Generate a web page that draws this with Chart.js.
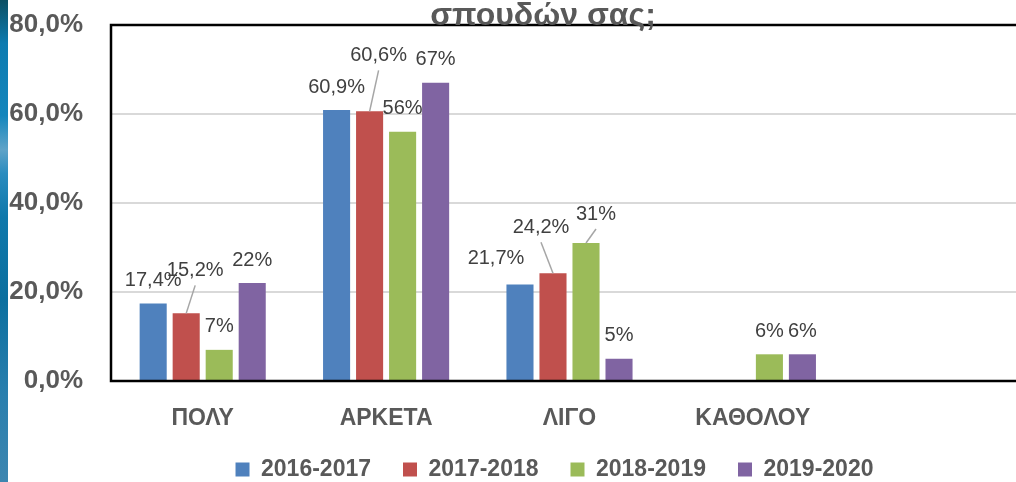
<!DOCTYPE html>
<html>
<head>
<meta charset="utf-8">
<script src="https://cdn.jsdelivr.net/npm/chart.js@4.4.1/dist/chart.umd.min.js"></script>
<style>
  html, body { margin: 0; padding: 0; background: #fff; width: 1016px; height: 482px; overflow: hidden; }
  #wrap { position: absolute; left: 0; top: 0; width: 1040px; height: 482px; }
  #strip {
    position: absolute; left: 0; top: 0; width: 8px; height: 482px;
    background: linear-gradient(to bottom, #0c4f63 0%, #0d7bb0 9%, #1486bd 24%, #5fa3c8 31%, #2a8cbf 36%, #0f78ab 45%, #0b6f9f 62%, #2a7fae 82%, #3d86b0 100%);
  }
</style>
</head>
<body>
<div id="wrap"><canvas id="chart"></canvas></div>
<div id="strip"></div>
<script>
const categories = ['ΠΟΛΥ', 'ΑΡΚΕΤΑ', 'ΛΙΓΟ', 'ΚΑΘΟΛΟΥ', ''];
const years = ['2016-2017', '2017-2018', '2018-2019', '2019-2020'];
const y2016 = [17.4, 60.9, 21.7, null, null];
const y2017 = [15.2, 60.6, 24.2, null, null];
const y2018 = [7, 56, 31, 6, null];
const y2019 = [22, 67, 5, 6, null];
const yTicks = [0, 20, 40, 60, 80];
const titleText = 'σπουδών σας;';

const colors = ['#4f81bd', '#c0504d', '#9bbb59', '#8064a2'];
const textGrey = '#595959';

// hand-moved labels (dx, dy, leader line) like in the original sheet
const labelNudge = {
  '1-0': [9, -20, true],
  '1-1': [9, -33, true],
  '0-2': [-24, -3, false],
  '1-2': [-12, -23, true],
  '2-2': [10, -6, true]
};

const fmt = v => String(v).replace('.', ',') + '%';

const decor = {
  id: 'decor',
  afterLayout(chart) {
    // legend sits a bit left of centre in the original
    chart.legend.left -= 15;
    chart.legend.right -= 15;
  },
  afterDatasetsDraw(chart) {
    const ctx = chart.ctx;
    ctx.save();
    ctx.font = '20px "Liberation Sans", Arial, sans-serif';
    ctx.textAlign = 'center';
    ctx.textBaseline = 'middle';
    chart.data.datasets.forEach((ds, di) => {
      chart.getDatasetMeta(di).data.forEach((bar, i) => {
        const v = ds.data[i];
        if (v == null) return;
        const n = labelNudge[di + '-' + i] || [0, 0, false];
        const lx = bar.x + n[0], ly = bar.y - 23 + n[1];
        if (n[2]) {
          ctx.strokeStyle = '#a6a6a6';
          ctx.lineWidth = 1.5;
          ctx.beginPath();
          ctx.moveTo(bar.x, bar.y);
          ctx.lineTo(lx, ly + 15);
          ctx.stroke();
        }
        ctx.fillStyle = '#404040';
        ctx.fillText(fmt(v), lx, ly);
      });
    });
    ctx.restore();
  },
  afterDraw(chart) {
    const {ctx, chartArea: a} = chart;
    ctx.save();
    ctx.strokeStyle = '#000';
    ctx.lineWidth = 2.5;
    ctx.beginPath();
    ctx.moveTo(a.right + 5, a.top);
    ctx.lineTo(a.left, a.top);
    ctx.lineTo(a.left, a.bottom);
    ctx.lineTo(a.right + 5, a.bottom);
    ctx.stroke();
    ctx.fillStyle = textGrey;
    ctx.font = 'bold 32px "Liberation Sans", Arial, sans-serif';
    ctx.textAlign = 'center';
    ctx.textBaseline = 'alphabetic';
    ctx.fillText(titleText, 543, a.top);
    ctx.restore();
  }
};

new Chart(document.getElementById('chart'), {
  type: 'bar',
  data: {
    labels: categories,
    datasets: [y2016, y2017, y2018, y2019].map((d, i) => ({
      label: years[i],
      data: d,
      backgroundColor: colors[i],
      categoryPercentage: 0.72,
      barPercentage: 0.82
    }))
  },
  options: {
    responsive: true,
    maintainAspectRatio: false,
    animation: false,
    layout: { padding: { top: 25, right: 12, left: 0, bottom: -9 } },
    plugins: {
      tooltip: { enabled: false },
      legend: {
        position: 'bottom',
        fullSize: false,
        labels: {
          boxWidth: 14,
          boxHeight: 14,
          padding: 32,
          color: textGrey,
          font: { family: '"Liberation Sans", Arial, sans-serif', size: 23, weight: 'bold' }
        }
      }
    },
    scales: {
      x: {
        grid: { display: false, drawTicks: false },
        border: { display: false },
        ticks: {
          padding: 24,
          color: textGrey,
          font: { family: '"Liberation Sans", Arial, sans-serif', size: 23, weight: 'bold' }
        },
        afterFit: s => { s.height = 45; }
      },
      y: {
        min: 0,
        max: 80,
        afterBuildTicks: s => { s.ticks = yTicks.map(v => ({ value: v })); },
        grid: {
          drawTicks: false,
          lineWidth: 2,
          color: c => (c.tick.value === 0 || c.tick.value === 80) ? 'rgba(0,0,0,0)' : '#d9d9d9'
        },
        border: { display: false },
        ticks: {
          padding: 28,
          color: textGrey,
          font: { family: '"Liberation Sans", Arial, sans-serif', size: 26, weight: 'bold' },
          callback: v => v.toFixed(1).replace('.', ',') + '%'
        },
        afterFit: s => { s.width = 111; s.paddingTop = 0; s.paddingBottom = 0; }
      }
    }
  },
  plugins: [decor]
});
</script>
</body>
</html>
